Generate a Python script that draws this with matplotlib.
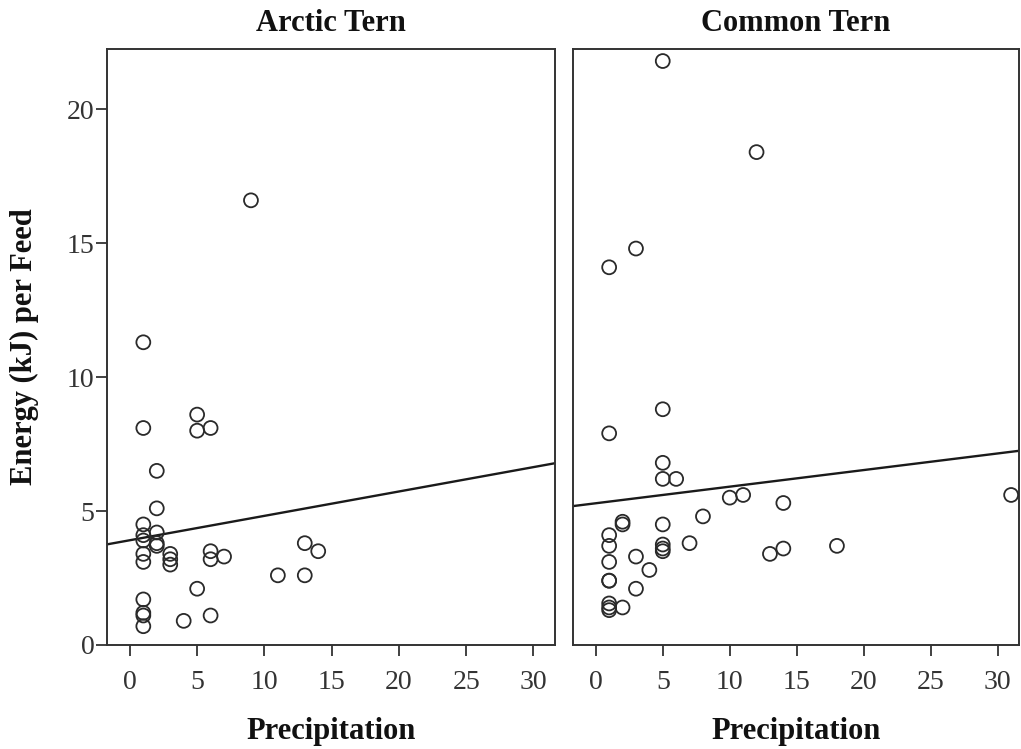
import numpy as np
import matplotlib
matplotlib.use("Agg")
from matplotlib import pyplot as plt

plt.rcParams['font.family'] = ['Liberation Serif', 'DejaVu Serif']

# Arctic Tern: precipitation vs energy per feed
arctic_x = [9, 1, 1, 5, 5, 6, 2, 2, 1, 1, 1, 2, 2, 2, 1, 1, 3, 3, 3, 6, 6, 7,
            13, 14, 11, 13, 5, 1, 1, 1, 1, 4, 6]
arctic_y = [16.6, 11.3, 8.1, 8.6, 8.0, 8.1, 6.5, 5.1, 4.5, 4.1, 3.9, 4.2, 3.8, 3.7,
            3.4, 3.1, 3.4, 3.2, 3.0, 3.5, 3.2, 3.3, 3.8, 3.5, 2.6, 2.6, 2.1, 1.7,
            1.2, 1.1, 0.7, 0.9, 1.1]

# Common Tern
common_x = [5, 12, 3, 1, 5, 1, 5, 5, 6, 10, 11, 14, 8, 2, 2, 5, 1, 1, 7, 5, 5, 5,
            14, 13, 3, 1, 4, 1, 1, 3, 1, 1, 1, 2, 18, 31]
common_y = [21.8, 18.4, 14.8, 14.1, 8.8, 7.9, 6.8, 6.2, 6.2, 5.5, 5.6, 5.3, 4.8,
            4.6, 4.5, 4.5, 4.1, 3.7, 3.8, 3.75, 3.6, 3.5, 3.6, 3.4, 3.3, 3.1, 2.8,
            2.4, 2.4, 2.1, 1.55, 1.4, 1.3, 1.4, 3.7, 5.6]

# fit lines (intercept, slope)
arctic_fit = (3.91, 0.091)
common_fit = (5.29, 0.062)

titles = ['Arctic Tern', 'Common Tern']
xticks = [0, 5, 10, 15, 20, 25, 30]
yticks = [0, 5, 10, 15, 20]
xlim = (-1.7, 31.6)
ylim = (0, 22.25)

fig = plt.figure(figsize=(10.21, 7.49), dpi=100)
ax1 = fig.add_axes([0.1048, 0.1389, 0.4388, 0.7957])
ax2 = fig.add_axes([0.5612, 0.1389, 0.4370, 0.7957])

panels = [(ax1, arctic_x, arctic_y, arctic_fit, titles[0]),
          (ax2, common_x, common_y, common_fit, titles[1])]

for ax, xs, ys, fit, title in panels:
    ax.scatter(xs, ys, s=100, facecolors='none', edgecolors='#2a2a2a',
               linewidths=1.3, zorder=3)
    lx = np.array(xlim)
    ax.plot(lx, fit[0] + fit[1] * lx, color='#1a1a1a', lw=1.7, zorder=2)
    ax.set_xlim(*xlim)
    ax.set_ylim(*ylim)
    ax.set_xticks(xticks)
    ax.set_title(title, fontsize=22, fontweight='bold', pad=13, color='#111')
    ax.set_xlabel('Precipitation', fontsize=22, fontweight='bold', labelpad=16,
                  color='#111')
    ax.tick_params(axis='x', direction='out', length=8, width=1.3,
                   labelsize=20, pad=10, colors='#333')
    for sp in ax.spines.values():
        sp.set_linewidth(1.4)
        sp.set_color('#333')

ax1.set_yticks(yticks)
ax1.tick_params(axis='y', direction='out', length=8, width=1.3,
                labelsize=20, pad=1, colors='#333')
ax1.set_ylabel('Energy (kJ) per Feed', fontsize=22, fontweight='bold', labelpad=20,
               color='#111')
ax2.set_yticks([])

fig.savefig('out.png', dpi=100, facecolor='white')
